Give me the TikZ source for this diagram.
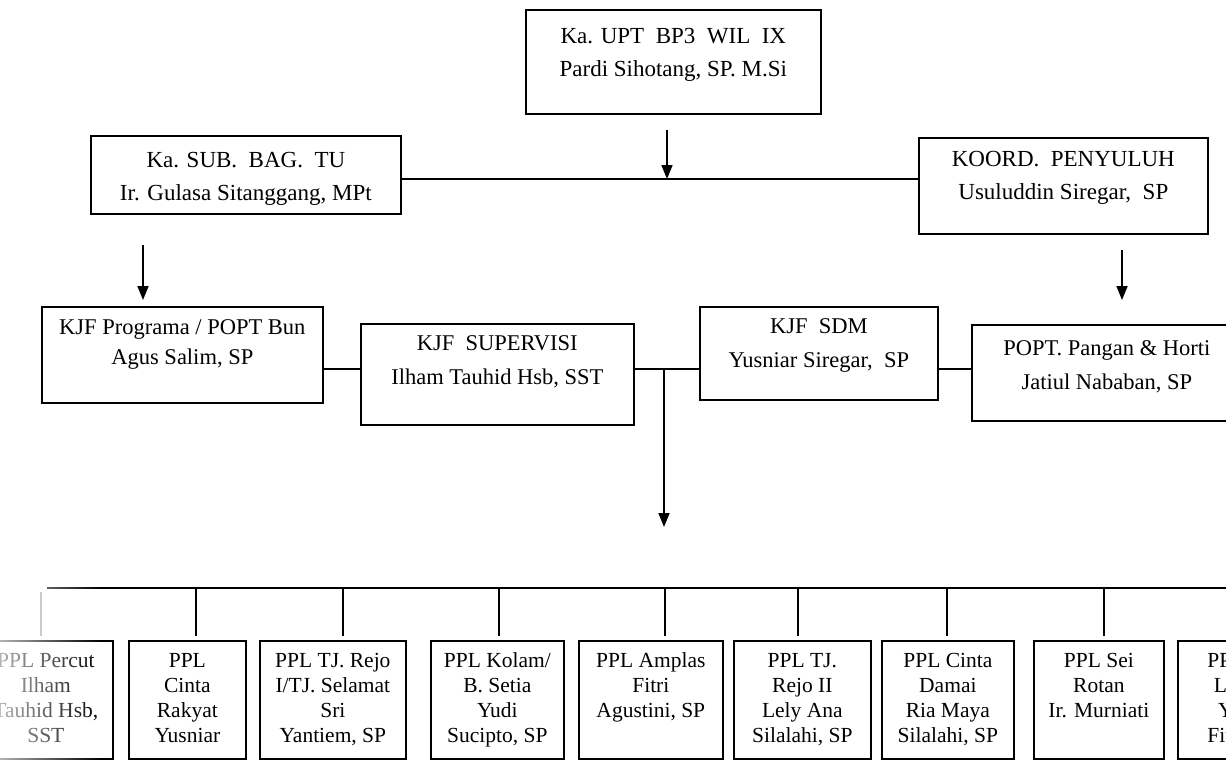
\documentclass[tikz,border=0pt]{standalone}
\usepackage{fontspec}
\setmainfont{Liberation Serif}
\usetikzlibrary{arrows.meta,fadings}
\tikzfading[name=fadeleft, left color=transparent!30, right color=transparent!100]
\newcommand{\orgcell}[4]{\parbox[t][#2][t]{#1}{\centering\rule{0pt}{#3}#4}}

\begin{document}
\begin{tikzpicture}[x=1pt, y=-1pt,
  unit/.style={draw, line width=1.7pt, inner sep=0pt, anchor=north west},
  head/.style={font=\fontsize{23}{33}\selectfont},
  staff/.style={font=\fontsize{22.5}{34}\selectfont},
  ppl/.style={font=\fontsize{21.5}{25}\selectfont},
  link/.style={line width=1.7pt},
  down/.style={line width=1.7pt, -{Triangle[width=11pt,length=14pt]}}
]
\useasboundingbox (0,0) rectangle (1226,763);
\clip (0,0) rectangle (1226,763);

\node[unit, head] (kaupt) at (525,9) {\orgcell{295pt}{104pt}{34pt}{Ka. UPT~ BP3~ WIL~ IX\\Pardi Sihotang, SP. M.Si}};
\node[unit, head] (subbag) at (90,135) {\orgcell{310pt}{78pt}{32pt}{Ka. SUB.~ BAG.~ TU\\Ir. Gulasa Sitanggang, MPt}};
\node[unit, head] (koord) at (918,137) {\orgcell{289pt}{96pt}{29pt}{KOORD.~ PENYULUH\\Usuluddin Siregar,~ SP}};

\coordinate (hub) at (667,179);
\draw[down, shorten <=15pt] (kaupt.south -| hub) -- (hub);
\draw[link] (subbag.east |- hub) -- (koord.west |- hub);

\node[unit, staff, font=\fontsize{22.5}{30}\selectfont] (programa) at (41,306) {\orgcell{281pt}{96pt}{28pt}{KJF Programa / POPT Bun\\Agus Salim, SP}};
\node[unit, staff] (supervisi) at (360,323) {\orgcell{273pt}{101pt}{27pt}{KJF~ SUPERVISI\\Ilham Tauhid Hsb, SST}};
\node[unit, staff] (sdm) at (699,306) {\orgcell{238pt}{93pt}{27pt}{KJF~ SDM\\Yusniar Siregar,~ SP}};
\node[unit, staff] (popt) at (971,324) {\orgcell{270pt}{96pt}{31pt}{POPT. Pangan \& Horti\\Jatiul Nababan, SP}};

\coordinate (s1) at (143,245);
\coordinate (k1) at (1122,250);
\draw[down, shorten >=6pt] (s1) -- (s1 |- programa.north);
\draw[down, shorten >=24pt] (k1) -- (k1 |- popt.north);

\coordinate (mid) at (664,369);
\coordinate (drop) at (664,527);
\draw[link] (programa.east |- mid) -- (supervisi.west |- mid);
\draw[link] (supervisi.east |- mid) -- (sdm.west |- mid);
\draw[link] (sdm.east |- mid) -- (popt.west |- mid);
\draw[down] (mid) -- (drop);

\node[unit, ppl] (ppl1) at (-22,640) {\orgcell{134pt}{118pt}{27pt}{PPL Percut\\Ilham\\Tauhid Hsb,\\SST}};
\node[unit, ppl] (ppl2) at (128,640) {\orgcell{117pt}{118pt}{27pt}{PPL\\Cinta\\Rakyat\\Yusniar}};
\node[unit, ppl] (ppl3) at (259,640) {\orgcell{146pt}{118pt}{27pt}{PPL TJ. Rejo\\I/TJ. Selamat\\Sri\\Yantiem, SP}};
\node[unit, ppl] (ppl4) at (430,640) {\orgcell{133pt}{118pt}{27pt}{PPL Kolam/\\B. Setia\\Yudi\\Sucipto, SP}};
\node[unit, ppl] (ppl5) at (578,640) {\orgcell{144pt}{118pt}{27pt}{PPL Amplas\\Fitri\\Agustini, SP}};
\node[unit, ppl] (ppl6) at (733,640) {\orgcell{137pt}{118pt}{27pt}{PPL TJ.\\Rejo II\\Lely Ana\\Silalahi, SP}};
\node[unit, ppl] (ppl7) at (881,640) {\orgcell{132pt}{118pt}{27pt}{PPL Cinta\\Damai\\Ria Maya\\Silalahi, SP}};
\node[unit, ppl] (ppl8) at (1033,640) {\orgcell{130pt}{118pt}{27pt}{PPL Sei\\Rotan\\Ir. Murniati}};
\node[unit, ppl] (ppl9) at (1177,640) {\orgcell{96pt}{118pt}{27pt}{PPL\\Lo\\Y\\Fitri}};

\coordinate (bus) at (47,588);
\draw[link] (bus) -- ++(1200,0);
\foreach \b/\dx in {ppl2/8.5, ppl3/10, ppl4/1.5, ppl5/14, ppl6/-4.5, ppl7/-1, ppl8/5}
  \draw[link] ([xshift=\dx pt]\b.north |- bus) -- ([xshift=\dx pt, yshift=4pt]\b.north);
\draw[link, black!35] ([xshift=-5pt, yshift=4pt]ppl1.north) -- ([xshift=-5pt, yshift=48pt]ppl1.north);

\fill[white, path fading=fadeleft] (0,570) rectangle (100,763);
\end{tikzpicture}
\end{document}
